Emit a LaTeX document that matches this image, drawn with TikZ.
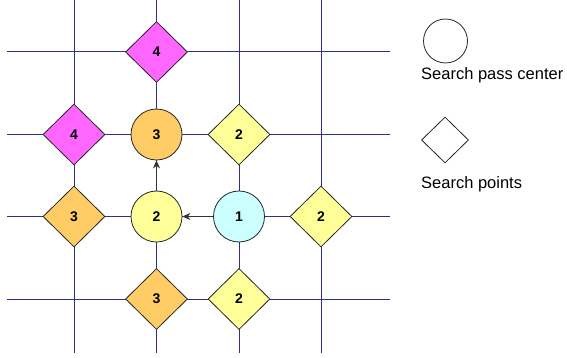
\documentclass[tikz,border=0pt]{standalone}
\usepackage{fontspec}
\setmainfont{Liberation Sans}
\usetikzlibrary{shapes.geometric,arrows.meta}
\definecolor{gridc}{RGB}{45,45,150}
\definecolor{cmag}{RGB}{255,102,255}
\definecolor{corange}{RGB}{255,204,102}
\definecolor{cyellow}{RGB}{255,255,153}
\definecolor{ccyan}{RGB}{204,255,255}
\tikzset{
  gridline/.style={draw=gridc, line width=1pt},
  ptbase/.style={draw=black!85, line width=0.8pt, inner sep=0pt, font=\fontsize{14}{14}\selectfont\bfseries},
  passc/.style={ptbase, circle, minimum size=51pt},
  spoint/.style={ptbase, diamond, shape aspect=1, minimum width=62pt, minimum height=61pt},
  movearrow/.style={draw=black!80, line width=1.7pt, -{Stealth[length=8pt,width=7pt]}},
  legtext/.style={anchor=west, inner sep=0pt, font=\fontsize{16.5}{16.5}\selectfont}
}
\begin{document}
\begin{tikzpicture}[x=1pt,y=-1pt]
\useasboundingbox (0,0) rectangle (567,358);
\fill[white] (0,0) rectangle (567,358);
% grid
\foreach \y in {52,134.5,216.5,299} \draw[gridline] (7,\y) -- (390,\y);
\foreach \x in {74,156.5,239,321} \draw[gridline] (\x,0) -- (\x,353);
% points
\node[spoint, fill=cmag] (a4) at (156.5,52) {4};
\node[spoint, fill=cmag] (b4) at (74,134.5) {4};
\node[passc, fill=corange] (c3) at (156.5,134.5) {3};
\node[spoint, fill=cyellow] (d2) at (239,134.5) {2};
\node[spoint, fill=corange] (e3) at (74,216.5) {3};
\node[passc, fill=cyellow] (c2) at (156.5,216.5) {2};
\node[passc, fill=ccyan] (c1) at (239,216.5) {1};
\node[spoint, fill=cyellow] (f2) at (321,216.5) {2};
\node[spoint, fill=corange] (g3) at (156.5,299) {3};
\node[spoint, fill=cyellow] (h2) at (239,299) {2};
% moves
\draw[movearrow] (c1) -- (c2);
\draw[movearrow] (c2) -- (c3);
% legend
\node[draw=black!85, line width=0.8pt, circle, minimum size=44pt, inner sep=0pt] (lc) at (445.5,41) {};
\node[legtext] (lct) at (421,75) {Search pass center};
\node[draw=black!85, line width=0.8pt, diamond, shape aspect=1, minimum width=47pt, minimum height=46pt, inner sep=0pt] (ld) at (445,140) {};
\node[legtext] (ldt) at (421,184) {Search points};
\end{tikzpicture}
\end{document}
